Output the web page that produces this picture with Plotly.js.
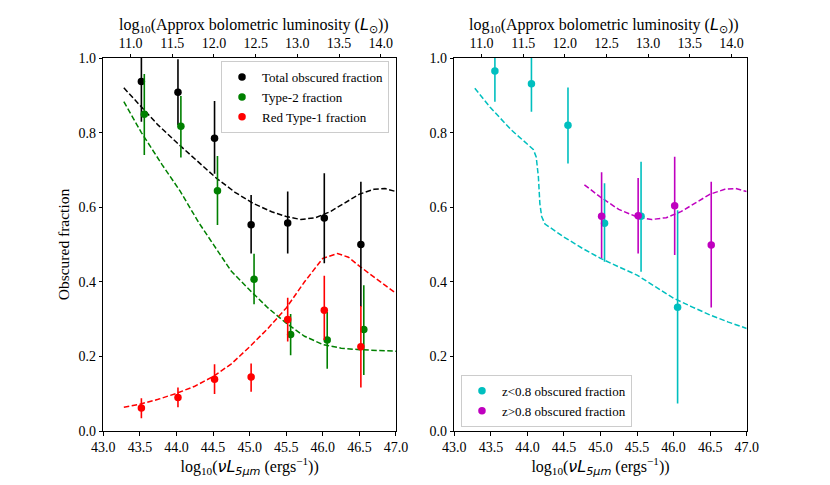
<!DOCTYPE html>
<html>
<head>
<meta charset="utf-8">
<script src="https://cdn.plot.ly/plotly-3.0.1.min.js"></script>
<style>
  body { margin: 0; background: #fff; }
  #plot { width: 830px; height: 485px; }
</style>
</head>
<body>
<div id="plot"></div>
<script>
// --- left panel: points (x = log10 nuL5um) ---
var totalX = [43.52, 44.02, 44.52, 45.02, 45.52, 46.02, 46.52]
var totalY = [0.937, 0.908, 0.785, 0.553, 0.558, 0.571, 0.500]
var totalHi = [1.05, 0.997, 0.885, 0.633, 0.642, 0.691, 0.668]
var totalLo = [0.829, 0.820, 0.690, 0.476, 0.476, 0.450, 0.333]

var type2X = [43.56, 44.06, 44.56, 45.06, 45.56, 46.06, 46.56]
var type2Y = [0.849, 0.817, 0.644, 0.407, 0.259, 0.244, 0.272]
var type2Hi = [0.957, 0.898, 0.737, 0.475, 0.314, 0.320, 0.391]
var type2Lo = [0.740, 0.733, 0.552, 0.340, 0.203, 0.167, 0.150]

var redX = [43.52, 44.02, 44.52, 45.02, 45.52, 46.02, 46.52]
var redY = [0.062, 0.090, 0.139, 0.145, 0.299, 0.324, 0.226]
var redHi = [0.088, 0.117, 0.179, 0.181, 0.357, 0.416, 0.335]
var redLo = [0.034, 0.064, 0.099, 0.105, 0.240, 0.244, 0.117]

// model curves
var totalModelX = [43.28, 43.5, 43.75, 44.05, 44.3, 44.55, 44.8, 45.05, 45.3, 45.5, 45.7, 45.9, 46.1, 46.3, 46.5, 46.7, 46.85, 47.0]
var totalModelY = [0.92, 0.872, 0.82, 0.765, 0.72, 0.677, 0.64, 0.61, 0.588, 0.575, 0.567, 0.572, 0.588, 0.612, 0.635, 0.648, 0.65, 0.642]

var type2ModelX = [43.28, 43.52, 43.8, 44.05, 44.3, 44.5, 44.75, 45.0, 45.25, 45.5, 45.75, 46.0, 46.25, 46.5, 46.75, 47.0]
var type2ModelY = [0.883, 0.80, 0.715, 0.643, 0.56, 0.50, 0.428, 0.378, 0.33, 0.289, 0.254, 0.232, 0.222, 0.218, 0.215, 0.214]

var redModelX = [43.28, 43.5, 43.75, 44.0, 44.25, 44.5, 44.75, 45.0, 45.25, 45.5, 45.75, 46.0, 46.2, 46.35, 46.5, 46.75, 47.0]
var redModelY = [0.064, 0.072, 0.085, 0.101, 0.12, 0.146, 0.18, 0.226, 0.275, 0.33, 0.40, 0.463, 0.476, 0.466, 0.442, 0.405, 0.369]

// --- right panel ---
var lowzX = [43.555, 44.055, 44.555, 45.055, 45.555, 46.055]
var lowzY = [0.965, 0.931, 0.820, 0.557, 0.576, 0.332]
var lowzHi = [1.05, 1.05, 0.921, 0.664, 0.722, 0.592]
var lowzLo = [0.883, 0.856, 0.717, 0.454, 0.427, 0.074]

var highzX = [45.015, 45.515, 46.015, 46.515]
var highzY = [0.576, 0.577, 0.604, 0.499]
var highzHi = [0.694, 0.678, 0.735, 0.668]
var highzLo = [0.463, 0.476, 0.472, 0.331]

var lowzModelX = [43.28, 43.49, 43.78, 44.08, 44.12, 44.15, 44.17, 44.195, 44.24, 44.5, 44.75, 45.0, 45.25, 45.5, 45.75, 46.0, 46.25, 46.5, 46.75, 47.0]
var lowzModelY = [0.919, 0.868, 0.807, 0.755, 0.735, 0.682, 0.61, 0.575, 0.555, 0.52, 0.49, 0.463, 0.44, 0.418, 0.387, 0.356, 0.333, 0.311, 0.292, 0.275]

var highzModelX = [44.78, 45.0, 45.25, 45.5, 45.7, 45.9, 46.1, 46.3, 46.5, 46.7, 46.85, 47.0]
var highzModelY = [0.66, 0.627, 0.594, 0.574, 0.567, 0.572, 0.588, 0.612, 0.635, 0.648, 0.65, 0.642]

// ranges of the axes
var lumRange = [43, 47]
var bolRange = [10.674, 14.183]

const SERIF = 'Liberation Serif, Times New Roman, serif'
const MATH = 'font-family:DejaVu Sans;font-style:italic'

// points with asymmetric error bars, no caps
function points(x, y, hi, lo, color, name, xa, ya, leg) {
	return {
		x: x, y: y, name: name,
		xaxis: xa, yaxis: ya, legend: leg,
		type: 'scatter', mode: 'markers',
		marker: {color: color, size: 7.5},
		error_y: {
			type: 'data', symmetric: false,
			array: y.map(function (v, i) { return hi[i] - v }),
			arrayminus: y.map(function (v, i) { return v - lo[i] }),
			color: color, thickness: 1.6, width: 0
		}
	}
}

function model(x, y, color, xa, ya) {
	return {
		x: x, y: y, xaxis: xa, yaxis: ya,
		type: 'scatter', mode: 'lines', showlegend: false, hoverinfo: 'skip',
		line: {color: color, width: 1.5, dash: '5.5px,2.5px'}
	}
}

// empty trace so that the top axis gets drawn
function holder(xa, ya) {
	return {
		x: bolRange, y: [null, null], xaxis: xa, yaxis: ya,
		type: 'scatter', mode: 'markers', showlegend: false, hoverinfo: 'skip'
	}
}

var data = [
	holder('x2', 'y'),
	holder('x4', 'y2'),
	model(totalModelX, totalModelY, 'black', 'x', 'y'),
	model(type2ModelX, type2ModelY, 'green', 'x', 'y'),
	model(redModelX, redModelY, 'red', 'x', 'y'),
	points(totalX, totalY, totalHi, totalLo, 'black', 'Total obscured fraction', 'x', 'y', 'legend'),
	points(type2X, type2Y, type2Hi, type2Lo, 'green', 'Type-2 fraction', 'x', 'y', 'legend'),
	points(redX, redY, redHi, redLo, 'red', 'Red Type-1 fraction', 'x', 'y', 'legend'),
	model(lowzModelX, lowzModelY, '#00bfbf', 'x3', 'y2'),
	model(highzModelX, highzModelY, '#bf00bf', 'x3', 'y2'),
	points(lowzX, lowzY, lowzHi, lowzLo, '#00bfbf', 'z<0.8 obscured fraction', 'x3', 'y2', 'legend2'),
	points(highzX, highzY, highzHi, highzLo, '#bf00bf', 'z>0.8 obscured fraction', 'x3', 'y2', 'legend2')
]

var bottomTitle = 'log<sub>10</sub>(<span style="' + MATH + '">νL</span><sub><span style="' + MATH + '">5μm</span></sub> (ergs<sup>−1</sup>))'
var topTitle = 'log<sub>10</sub>(Approx bolometric luminosity (<span style="' + MATH + '">L</span><sub>⊙</sub>))'

function lumAxis(domain, anchor) {
	return {
		domain: domain, anchor: anchor, range: lumRange,
		tick0: 43, dtick: 0.5, tickformat: '.1f',
		ticks: 'outside', ticklen: 3.5, tickwidth: 1, tickcolor: 'black',
		showline: true, mirror: true, linecolor: 'black', linewidth: 1,
		showgrid: false, zeroline: false,
		title: {text: bottomTitle, font: {size: 16}, standoff: 3}
	}
}

function bolAxis(over, anchor) {
	return {
		overlaying: over, anchor: anchor, side: 'top', range: bolRange,
		tick0: 11, dtick: 0.5, tickformat: '.1f',
		ticks: 'outside', ticklen: 3.5, tickwidth: 1, tickcolor: 'black',
		showline: false, showgrid: false, zeroline: false
	}
}

function fracAxis(anchor, title) {
	return {
		domain: [0.1113, 0.8804], anchor: anchor, range: [0, 1],
		dtick: 0.2, tickformat: '.1f',
		ticks: 'outside', ticklen: 3.5, tickwidth: 1, tickcolor: 'black',
		showline: true, mirror: true, linecolor: 'black', linewidth: 1,
		showgrid: false, zeroline: false,
		title: {text: title, font: {size: 15.5}, standoff: 5}
	}
}

// top titles sit closer to their tick labels than plotly allows, so use annotations
function topLabel(xc) {
	return {
		text: topTitle, xref: 'paper', yref: 'paper', x: xc, y: 0.948,
		xanchor: 'center', yanchor: 'middle', showarrow: false,
		font: {size: 16}
	}
}

var legendStyle = {
	bgcolor: 'rgba(255,255,255,0.8)', bordercolor: '#cccccc', borderwidth: 1,
	font: {family: SERIF, size: 13, color: 'black'}
}

var layout = {
	width: 830, height: 485,
	margin: {l: 0, r: 0, t: 0, b: 0},
	paper_bgcolor: 'white', plot_bgcolor: 'white',
	font: {family: SERIF, size: 14, color: 'black'},
	showlegend: true,
	xaxis: lumAxis([0.1245, 0.4771], 'y'),
	xaxis2: bolAxis('x', 'y'),
	xaxis3: lumAxis([0.5474, 0.8996], 'y2'),
	xaxis4: bolAxis('x3', 'y2'),
	yaxis: fracAxis('x', 'Obscured fraction'),
	yaxis2: fracAxis('x3', ''),
	annotations: [topLabel(254 / 830), topLabel(604 / 830)],
	legend: Object.assign({x: 0.4687, xanchor: 'right', y: 0.874, yanchor: 'top'}, legendStyle),
	legend2: Object.assign({x: 0.5554, xanchor: 'left', y: 0.12, yanchor: 'bottom'}, legendStyle)
}

try {
	Plotly.newPlot('plot', data, layout, {staticPlot: true})
} catch (err) {
	console.error(err)
}
</script>
</body>
</html>
